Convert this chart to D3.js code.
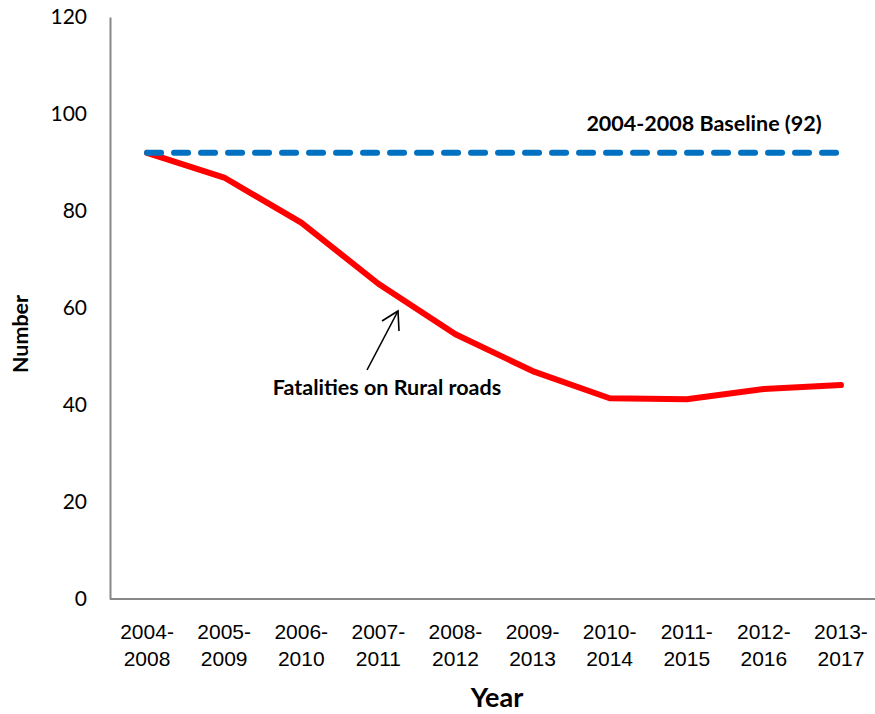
<!DOCTYPE html>
<html><head><meta charset="utf-8">
<script src="https://cdn.jsdelivr.net/npm/d3@7"></script>
<style>body{margin:0;background:#fff;}svg{display:block;font-family:Lato,"Open Sans",sans-serif;}</style>
</head><body><svg id="c" width="875" height="714"></svg>
<script>
const categories = [["2004-","2008"],["2005-","2009"],["2006-","2010"],["2007-","2011"],["2008-","2012"],["2009-","2013"],["2010-","2014"],["2011-","2015"],["2012-","2016"],["2013-","2017"]];
const fatalities = [92, 86.9, 77.6, 65.0, 54.6, 47.0, 41.4, 41.2, 43.3, 44.1];
const baseline = [92, 92, 92, 92, 92, 92, 92, 92, 92, 92];
const yTicks = [0, 20, 40, 60, 80, 100, 120];

const svg = d3.select("#c");
const keys = categories.map(c => c.join(""));
const x = d3.scaleBand().domain(keys).range([108.5, 879.5]);
const cx = k => x(k) + x.bandwidth() / 2;
const y = d3.scaleLinear().domain([0, 120]).range([599, 17]);

// axes
const yAx = svg.append("g").attr("transform", "translate(110,0)")
  .call(d3.axisLeft(y).tickValues(yTicks).tickSize(0).tickPadding(23));
yAx.select(".domain").attr("stroke", "#888").attr("stroke-width", 2);
yAx.selectAll("text").attr("font-size", 21).attr("fill", "#000").attr("font-family", "Lato");

const xAx = svg.append("g").attr("transform", "translate(0,599)")
  .call(d3.axisBottom(x).tickSize(0).tickFormat(""));
xAx.select(".domain").attr("stroke", "#888").attr("stroke-width", 2).attr("d", "M110,0H875");
xAx.selectAll(".tick").each(function(k, i) {
  const t = d3.select(this).append("text").attr("fill", "#000").attr("font-size", 21)
    .attr("text-anchor", "middle");
  t.append("tspan").attr("x", 0).attr("y", 40).text(categories[i][0]);
  t.append("tspan").attr("x", 0).attr("y", 67).text(categories[i][1]);
});

// lines
const line = d3.line().x((d, i) => cx(keys[i])).y(d => y(d));
svg.append("path").datum(fatalities).attr("d", line)
  .attr("fill", "none").attr("stroke", "#FF0000").attr("stroke-width", 6)
  .attr("stroke-linejoin", "round").attr("stroke-linecap", "round");
svg.append("path").datum(baseline).attr("d", line)
  .attr("fill", "none").attr("stroke", "#0070C0").attr("stroke-width", 6)
  .attr("stroke-dasharray", "14,13").attr("stroke-linecap", "round");

// labels
svg.append("text").attr("x", 704).attr("y", 131).attr("text-anchor", "middle")
  .attr("font-weight", "bold").attr("font-size", 21.5).text("2004-2008 Baseline (92)");
svg.append("text").attr("x", 387).attr("y", 395).attr("text-anchor", "middle")
  .attr("font-weight", "bold").attr("font-size", 21.5).text("Fatalities on Rural roads");

// arrow
svg.append("line").attr("x1", 367).attr("y1", 370).attr("x2", 398).attr("y2", 311)
  .attr("stroke", "#000").attr("stroke-width", 1.6);
svg.append("path").attr("d", "M382,321 L398,311 L399,331").attr("fill", "none")
  .attr("stroke", "#000").attr("stroke-width", 1.6);

svg.append("text").attr("x", 497).attr("y", 707).attr("text-anchor", "middle")
  .attr("font-weight", "bold").attr("font-size", 27).text("Year");
svg.append("text").attr("transform", "translate(28,334) rotate(-90)").attr("text-anchor", "middle")
  .attr("font-weight", "bold").attr("font-size", 21.5).text("Number");
</script></body></html>
